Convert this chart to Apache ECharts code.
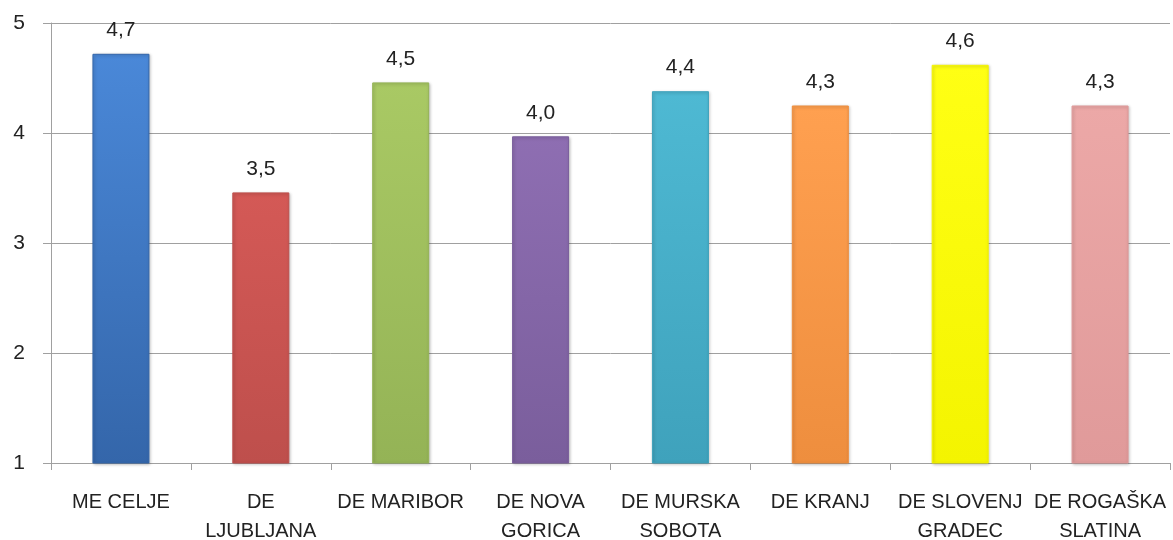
<!DOCTYPE html>
<html>
<head>
<meta charset="utf-8">
<script src="https://cdn.jsdelivr.net/npm/echarts@6/dist/echarts.min.js"></script>
<style>html,body{margin:0;padding:0;background:#fff}#c{width:1173px;height:540px}</style>
</head>
<body>
<div id="c"></div>
<script>
const categories = ['ME CELJE', 'DE\nLJUBLJANA', 'DE MARIBOR', 'DE NOVA\nGORICA', 'DE MURSKA\nSOBOTA', 'DE KRANJ', 'DE SLOVENJ\nGRADEC', 'DE ROGAŠKA\nSLATINA'];
const values = [4.72, 3.46, 4.46, 3.97, 4.38, 4.25, 4.62, 4.25];
const colorsTop = ['#4A88D8', '#D45956', '#A9C964', '#8E6EB2', '#4EB9D3', '#FFA050', '#FFFF14', '#ECA8A7'];
const colorsBottom = ['#3466AA', '#BE4F4C', '#94B356', '#7A5E9C', '#3FA2BC', '#EE8E3E', '#F4F400', '#E09A9A'];
const yTicks = [1, 2, 3, 4, 5];

const font = 'Liberation Sans, Arial, sans-serif';
const chart = echarts.init(document.getElementById('c'), null, {renderer: 'canvas'});
chart.setOption({
  animation: false,
  backgroundColor: '#fff',
  grid: {left: 51, right: 3, top: 23, bottom: 77, containLabel: false, outerBoundsMode: 'none'},
  xAxis: {
    type: 'category',
    data: categories,
    axisLine: {lineStyle: {color: '#A0A0A0', width: 1}},
    axisTick: {show: true, length: 7, alignWithLabel: false, lineStyle: {color: '#A0A0A0'}},
    axisLabel: {interval: 0, color: '#222', fontFamily: font, fontSize: 20, lineHeight: 29, margin: 25}
  },
  yAxis: {
    type: 'value',
    min: yTicks[0], max: yTicks[yTicks.length - 1], interval: 1,
    axisLine: {show: true, lineStyle: {color: '#A0A0A0', width: 1}},
    axisTick: {show: true, length: 8, lineStyle: {color: '#A0A0A0'}},
    splitLine: {show: true, lineStyle: {color: '#A0A0A0', width: 1}},
    axisLabel: {color: '#222', fontFamily: font, fontSize: 21, margin: 26}
  },
  series: [{
    type: 'bar',
    barWidth: 57,
    data: values.map((v, i) => ({
      value: v,
      itemStyle: {
        color: new echarts.graphic.LinearGradient(0, 0, 0, 1, [
          {offset: 0, color: colorsTop[i]},
          {offset: 1, color: colorsBottom[i]}
        ]),
        borderColor: colorsBottom[i],
        borderWidth: 1,
        shadowColor: 'rgba(0,0,0,0.25)',
        shadowBlur: 3,
        shadowOffsetX: 1,
        shadowOffsetY: 1
      }
    })),
    label: {
      show: true,
      position: 'top',
      distance: 13,
      color: '#222',
      fontFamily: font,
      fontSize: 21,
      formatter: p => p.value.toFixed(1).replace('.', ',')
    }
  }]
});
</script>
</body>
</html>
